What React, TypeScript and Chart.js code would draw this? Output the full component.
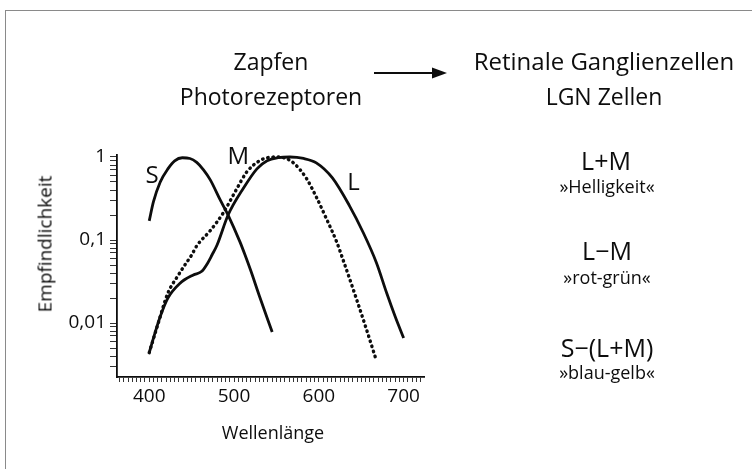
import React, { useEffect, useRef } from "react";
import { Chart, registerables } from "chart.js";

Chart.register(...registerables);

// ---- data ----
const sWavelengths = [400, 405, 413, 422, 430, 439, 448, 456, 464, 472, 484, 493, 507, 513, 520, 530, 545];
const sValues = [0.17, 0.29, 0.5, 0.72, 0.9, 0.98, 0.96, 0.86, 0.7, 0.53, 0.3, 0.2, 0.095, 0.066, 0.042, 0.021, 0.0078];

const mWavelengths = [400, 410, 422, 433, 442, 450, 456, 472, 487, 503, 515, 530, 542, 552, 560, 570, 585, 597, 609, 621, 628, 644, 656, 668];
const mValues = [0.0044, 0.0095, 0.023, 0.036, 0.05, 0.066, 0.085, 0.13, 0.21, 0.41, 0.66, 0.9, 0.99, 1.0, 0.97, 0.85, 0.56, 0.33, 0.18, 0.095, 0.06, 0.02, 0.0085, 0.0035];

const lWavelengths = [400, 405, 413, 422, 436, 452, 462, 469, 474, 480, 493, 511, 527, 539, 552, 566, 582, 597, 616, 636, 652, 668, 680, 690, 700];
const lValues = [0.0044, 0.0066, 0.012, 0.02, 0.03, 0.038, 0.042, 0.053, 0.066, 0.087, 0.2, 0.42, 0.72, 0.9, 0.98, 1.0, 0.96, 0.85, 0.56, 0.26, 0.125, 0.053, 0.023, 0.012, 0.0066];

const xTickLabels = [400, 500, 600, 700];
const yTickLabelValues = [0.01, 0.1, 1];
const yTickLabels = ["0,01", "0,1", "1"];

const curveNames = ["S", "M", "L"];
const curveLabelX = [403.5, 505, 641];
const curveLabelY = [0.58, 1.0, 0.48];

const xTitle = "Wellenlänge";
const yTitle = "Empfindlichkeit";

// ---- axis ranges / tick positions ----
const X_MIN = 362;
const X_MAX = 724;
const Y_MIN = 0.00224;
const Y_MAX = 1.057;

const xTickValues: number[] = [];
for (let v = 365; v <= 720; v += 5) xTickValues.push(v);

const yTickValues: number[] = [];
[0.001, 0.01, 0.1].forEach((d) => {
  for (let m = 1; m <= 9; m++) {
    const v = Number((m * d).toPrecision(3));
    if (v >= Y_MIN && v <= Y_MAX) yTickValues.push(v);
  }
});
yTickValues.push(1);

const FONT = "'Open Sans', 'DejaVu Sans', sans-serif";
const INK = "#0d0d0d";
const WEIGHT = 500;

const curveLabelPlugin = {
  id: "curveLabels",
  afterDraw(chart: any) {
    const { ctx } = chart;
    const x = chart.scales.x;
    const y = chart.scales.y;
    ctx.save();
    ctx.font = `${WEIGHT} 24px ${FONT}`;
    ctx.fillStyle = INK;
    ctx.textAlign = "center";
    ctx.textBaseline = "middle";
    curveNames.forEach((n, i) => {
      ctx.fillText(n, x.getPixelForValue(curveLabelX[i]), y.getPixelForValue(curveLabelY[i]));
    });
    ctx.restore();
  },
};

type LabelProps = { x: number; y: number; size: number; text: string; rotate?: number };
function Label({ x, y, size, text, rotate = 0 }: LabelProps) {
  return (
    <div
      style={{
        position: "absolute",
        left: x,
        top: y,
        transform: `translate(-50%, -50%) rotate(${rotate}deg)`,
        fontFamily: FONT,
        fontWeight: WEIGHT,
        fontSize: size,
        lineHeight: 1,
        whiteSpace: "nowrap",
        color: INK,
      }}
    >
      {text}
    </div>
  );
}

export default function App() {
  const canvasRef = useRef<HTMLCanvasElement | null>(null);

  useEffect(() => {
    if (!canvasRef.current) return;
    const mk = (w: number[], v: number[]) => w.map((x, i) => ({ x, y: v[i] }));
    const chart = new Chart(canvasRef.current, {
      type: "line",
      data: {
        datasets: [
          {
            label: "S",
            data: mk(sWavelengths, sValues),
            borderColor: INK,
            borderWidth: 2.8,
            pointRadius: 0,
            cubicInterpolationMode: "monotone",
            fill: false,
          },
          {
            label: "M",
            data: mk(mWavelengths, mValues),
            borderColor: INK,
            borderWidth: 3.4,
            borderDash: [0.5, 4.8],
            borderCapStyle: "round",
            pointRadius: 0,
            cubicInterpolationMode: "monotone",
            fill: false,
          },
          {
            label: "L",
            data: mk(lWavelengths, lValues),
            borderColor: INK,
            borderWidth: 2.8,
            pointRadius: 0,
            cubicInterpolationMode: "monotone",
            fill: false,
          },
        ],
      } as any,
      options: {
        animation: false,
        responsive: true,
        maintainAspectRatio: false,
        layout: { padding: { top: 155, right: 328, bottom: 0, left: 0 } },
        plugins: { legend: { display: false }, tooltip: { enabled: false } },
        scales: {
          x: {
            type: "linear",
            min: X_MIN,
            max: X_MAX,
            afterBuildTicks: (s: any) => {
              s.ticks = xTickValues.map((v) => ({ value: v }));
            },
            afterFit: (s: any) => {
              s.height = 92;
            },
            ticks: {
              autoSkip: false,
              maxRotation: 0,
              padding: 3,
              color: INK,
              font: { family: FONT, size: 19, weight: WEIGHT },
              callback: (value: any) => (xTickLabels.includes(Number(value)) ? String(value) : ""),
            },
            grid: {
              display: true,
              drawOnChartArea: false,
              drawTicks: true,
              tickLength: 5,
              color: "#333",
              lineWidth: 1,
            },
            border: { display: true, color: INK, width: 1.8 },
          },
          y: {
            type: "logarithmic",
            min: Y_MIN,
            max: Y_MAX,
            afterBuildTicks: (s: any) => {
              s.ticks = yTickValues.map((v) => ({ value: v, major: yTickLabelValues.includes(v) }));
            },
            afterFit: (s: any) => {
              s.width = 117;
            },
            ticks: {
              autoSkip: false,
              padding: 4,
              color: INK,
              font: { family: FONT, size: 19, weight: WEIGHT },
              callback: (value: any) => {
                const i = yTickLabelValues.indexOf(Number(value));
                return i >= 0 ? yTickLabels[i] : "";
              },
            },
            grid: {
              display: true,
              drawOnChartArea: false,
              drawTicks: true,
              tickLength: 7,
              color: "#333",
              lineWidth: 1,
            },
            border: { display: true, color: INK, width: 1.8 },
          },
        },
      } as any,
      plugins: [curveLabelPlugin],
    });
    return () => chart.destroy();
  }, []);

  return (
    <>
      <div
        style={{
          position: "absolute",
          left: 5,
          top: 10,
          width: 760,
          height: 470,
          borderTop: "1.5px solid #8a8a8a",
          borderLeft: "1.5px solid #8a8a8a",
        }}
      />
      <div style={{ position: "absolute", left: 0, top: 0, width: 752, height: 469 }}>
        <canvas ref={canvasRef} />
      </div>
      <Label x={271} y={61} size={23} text="Zapfen" />
      <Label x={271} y={96} size={23} text="Photorezeptoren" />
      <Label x={604} y={61} size={24} text="Retinale Ganglienzellen" />
      <Label x={604} y={96} size={23} text="LGN Zellen" />
      <svg style={{ position: "absolute", left: 370, top: 64 }} width={82} height={18}>
        <line x1={4} y1={9} x2={66} y2={9} stroke={INK} strokeWidth={2.2} />
        <polygon points="77,9 62,3.5 62,14.5" fill={INK} />
      </svg>
      <Label x={606} y={160} size={25} text="L+M" />
      <Label x={607} y={186} size={18} text="»Helligkeit«" />
      <Label x={607} y={250} size={25} text="L−M" />
      <Label x={607} y={277} size={18} text="»rot-grün«" />
      <Label x={607} y={347} size={25} text="S−(L+M)" />
      <Label x={607} y={372} size={18} text="»blau-gelb«" />
      <Label x={45} y={244} size={19} text={yTitle} rotate={-90} />
      <Label x={273} y={432} size={18} text={xTitle} />
    </>
  );
}
